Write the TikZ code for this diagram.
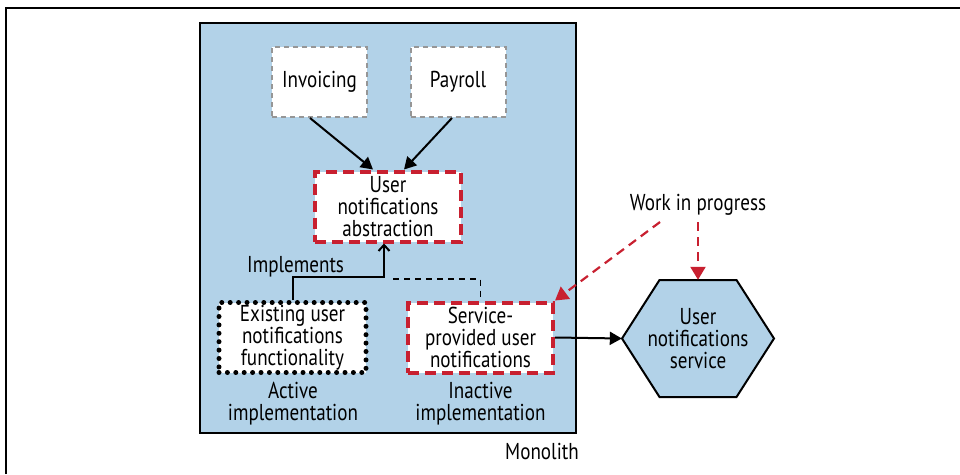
\documentclass[tikz,border=0pt]{standalone}
\usepackage{fontspec}
\setmainfont{PT Sans}[FakeStretch=0.83]
\usetikzlibrary{arrows.meta}
\definecolor{monoblue}{RGB}{178,210,232}
\definecolor{wipred}{RGB}{200,32,48}
\definecolor{boxgray}{RGB}{150,150,150}
\tikzset{
  txt/.style={font=\fontsize{23}{22}\selectfont, align=center, inner sep=0pt},
  grayboxstyle/.style={draw=boxgray, fill=white, line width=2pt, dash pattern=on 5pt off 4pt, minimum width=95pt, minimum height=70pt, txt},
  redbox/.style={draw=wipred, fill=white, line width=4pt, dash pattern=on 11pt off 6pt, minimum width=145pt, minimum height=70pt, txt},
  dotbox/.style={draw=black, fill=white, line width=5pt, line cap=round, dash pattern=on 0pt off 8.4pt, minimum width=145pt, minimum height=70pt, txt},
  blackarrow/.style={draw=black, line width=2pt, -{Triangle[length=12pt,width=13pt]}},
  redarrow/.style={draw=wipred, line width=2.2pt, dash pattern=on 9pt off 6pt, -{Triangle[length=13pt,width=15pt]}},
}
\begin{document}
\begin{tikzpicture}[x=1pt,y=-1pt]
\useasboundingbox (0,0) rectangle (960,474);
% outer frame (top and left)
\draw[line width=1.8pt] (6,474) -- (6,8) -- (960,8);
% monolith
\node[draw=black, fill=monoblue, line width=2.5pt, minimum width=376pt, minimum height=410pt, inner sep=0pt] (mono) at (388,228) {};
\node[txt, anchor=center] (monolab) at (542,451) {Monolith};
% boxes
\node[grayboxstyle] (inv) at (319.5,82) {Invoicing};
\node[grayboxstyle] (pay) at (458,82) {Payroll};
\node[redbox, minimum width=146pt] (abs) at (388,206.5) {User\\notifications\\abstraction};
\node[dotbox, minimum width=147pt] (exist) at (292.5,337.5) {Existing user\\notifications\\functionality};
\node[redbox] (svc) at (480.5,337.5) {Service-\\provided user\\notifications};
\node[txt] (actlab) at (293,404) {Active\\implementation};
\node[txt] (inactlab) at (480.5,404) {Inactive\\implementation};
% hexagon
\filldraw[fill=monoblue, draw=black, line width=2pt, line join=miter]
  (622,338.5) -- (659.5,280) -- (736.5,280) -- (774,338.5) -- (736.5,397) -- (659.5,397) -- cycle;
\node[txt, minimum width=152pt, minimum height=117pt] (hex) at (698,338.5) {User\\notifications\\service};
\node[txt] (wip) at (698,205) {Work in progress};
% connectors
\draw[blackarrow] ([xshift=-9.5pt]inv.south) -- ([xshift=-15pt]abs.north);
\draw[blackarrow] ([xshift=-6pt]pay.south) -- ([xshift=16pt]abs.north);
\draw[draw=black, line width=2pt, -{Straight Barb[length=6pt,width=11pt]}]
  (exist.north) |- (384,277) -- ([xshift=-4pt]abs.south);
\node[txt, anchor=base west] (impl) at (247,272) {Implements};
\coordinate (dstart) at (393,279);
\draw[draw=black, line width=1.5pt, dash pattern=on 6pt off 5pt] (dstart) -| (svc.north);
\draw[blackarrow] (svc.east) -- (hex.west);
\draw[redarrow] ([xshift=-38pt,yshift=-17pt]wip.center) -- (svc.north east);
\draw[redarrow] ([yshift=-17pt]wip.center) -- (hex.north);
\end{tikzpicture}
\end{document}
